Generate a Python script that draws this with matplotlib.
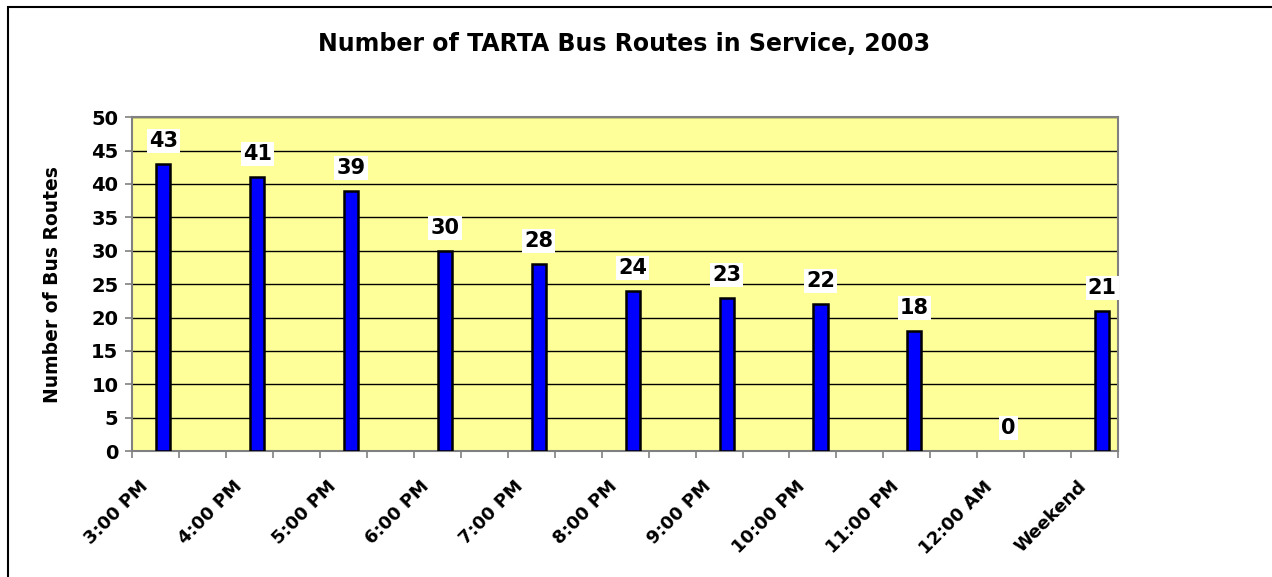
import numpy as np
import matplotlib.pyplot as plt
import matplotlib.patches as patches
import matplotlib.transforms as mtransforms

# Data
times = ["3:00 PM", "4:00 PM", "5:00 PM", "6:00 PM", "7:00 PM", "8:00 PM",
         "9:00 PM", "10:00 PM", "11:00 PM", "12:00 AM", "Weekend"]
routes = [43, 41, 39, 30, 28, 24, 23, 22, 18, 0, 21]

plt.rcParams['font.family'] = ['DejaVu Sans']
plt.rcParams['font.weight'] = 'bold'

fig = plt.figure(figsize=(12.72, 5.77), dpi=100, facecolor='white')
ax = fig.add_axes([0.104, 0.218, 0.775, 0.579])
ax.set_facecolor('#FFFF99')

# Excel layout: every category sits on two slots (one blank), bar in right half
slot = np.arange(len(times)) * 2
edge_w = [1.8 if v > 0 else 0 for v in routes]
bars = ax.bar(slot + 0.16, routes, width=0.3, color='#0000FF',
              edgecolor='black', linewidth=edge_w, zorder=3)

for b, v in zip(bars, routes):
    ax.annotate(f"{v}", (b.get_x() + b.get_width() / 2, v),
                xytext=(0, 16.5), textcoords='offset points',
                ha='center', va='center', fontsize=15, fontweight='bold',
                bbox=dict(facecolor='white', edgecolor='none', pad=1.5), zorder=4)

ax.set_xlim(-0.5, 2 * len(times) - 1.5)
ax.set_ylim(0, 50)
ax.set_yticks(np.arange(0, 51, 5))
ax.yaxis.grid(True, color='black', linewidth=1.0, zorder=0)
ax.set_axisbelow(True)

ax.set_xticks(slot)
ax.set_xticklabels(times, rotation=45, ha='right', rotation_mode='anchor',
                   fontsize=13, fontweight='bold')
ax.set_xticks(np.arange(-0.5, 2 * len(times) - 1, 1), minor=True)
ax.tick_params(axis='x', which='major', length=0, pad=19)
ax.tick_params(axis='x', which='minor', length=5, width=1.2, color='#808080')
ax.tick_params(axis='y', length=5, width=1.2, color='#808080', labelsize=14, pad=5)
shift = mtransforms.ScaledTranslation(-0.17, 0, fig.dpi_scale_trans)
for lbl in ax.get_xticklabels():
    lbl.set_transform(lbl.get_transform() + shift)
for lbl in ax.get_yticklabels():
    lbl.set_fontweight('bold')

for spine in ax.spines.values():
    spine.set_color('#808080')
    spine.set_linewidth(1.5)

ax.set_ylabel("Number of Bus Routes", fontsize=13.5, fontweight='bold')
ax.yaxis.set_label_coords(-0.071, 0.5)

fig.text(0.491, 0.924, "Number of TARTA Bus Routes in Service, 2003",
         ha='center', va='center', fontsize=17, fontweight='bold')

# chart area border (only top and left edges are inside the picture)
fig.add_artist(patches.Rectangle((8 / 1272, -0.2), 1.2, 1.2 - 6.7 / 577,
                                 transform=fig.transFigure, fill=False,
                                 edgecolor='black', linewidth=1.5))

plt.savefig("out.png", dpi=100, facecolor='white')
